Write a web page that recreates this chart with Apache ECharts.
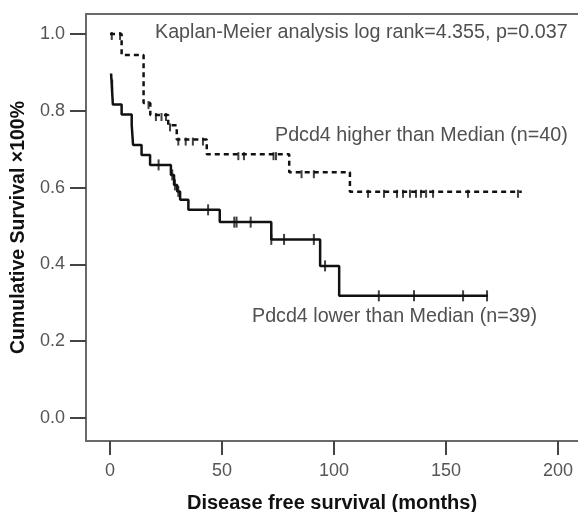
<!DOCTYPE html>
<html>
<head>
<meta charset="utf-8">
<script src="https://cdn.jsdelivr.net/npm/echarts@6/dist/echarts.min.js"></script>
<style>
  html, body { margin: 0; padding: 0; background: #fff; }
  #chart { width: 578px; height: 512px; }
</style>
</head>
<body>
<div id="chart"></div>
<script>
// Pdcd4 lower than median (n=39): step times (months) and survival after the step
const lowTimes = [0.5, 1.3, 5.2, 9.7, 10.3, 14.1, 17.9, 27.2, 28.6, 30, 31.3, 35, 49, 72, 93.8, 102.3, 168.7];
const lowSurv = [0.897, 0.816, 0.79, 0.763, 0.711, 0.685, 0.659, 0.633, 0.607, 0.59, 0.568, 0.542, 0.51, 0.465, 0.396, 0.318, 0.318];
// censored cases, lower group
const lowCensT = [1, 21.7, 27.8, 29, 30.5, 43.8, 55.5, 56.5, 62.8, 72, 77.7, 91, 96, 120, 135.7, 157.6, 168.3];
const lowCensS = [0.867, 0.659, 0.633, 0.607, 0.59, 0.542, 0.51, 0.51, 0.51, 0.465, 0.465, 0.465, 0.396, 0.318, 0.318, 0.318, 0.318];

// Pdcd4 higher than median (n=40)
const highTimes = [0, 5.2, 15, 18, 26, 29.8, 43.2, 80, 107.1, 183.8];
const highSurv = [1.0, 0.945, 0.82, 0.789, 0.762, 0.725, 0.687, 0.64, 0.589, 0.589];
const highCensT = [0.8, 4.5, 17.2, 20.5, 23, 25, 26.8, 30.5, 33.8, 37, 41.5, 57.3, 59.8, 73, 74.1, 85.5, 91,
  115.2, 122.3, 128.1, 130.8, 133.9, 136.6, 138.8, 141.1, 144.2, 159.8, 182.1];
const highCensS = [1.0, 1.0, 0.82, 0.789, 0.789, 0.789, 0.762, 0.725, 0.725, 0.725, 0.725, 0.687, 0.687, 0.687, 0.687, 0.64, 0.64,
  0.589, 0.589, 0.589, 0.589, 0.589, 0.589, 0.589, 0.589, 0.589, 0.589, 0.589];

const xTicks = [0, 50, 100, 150, 200];
const yTicks = [0, 0.2, 0.4, 0.6, 0.8, 1.0];

const xTitle = "Disease free survival (months)";
const yTitle = "Cumulative Survival ×100%";
const statText = "Kaplan-Meier analysis log rank=4.355, p=0.037";
const highLabel = "Pdcd4 higher than Median (n=40)";
const lowLabel = "Pdcd4 lower than Median (n=39)";

const zip = (a, b) => a.map((v, i) => [v, b[i]]);

const font = "'Liberation Sans', Arial, sans-serif";
const frameColor = "#6a6a6a";
const textGray = "#555";
const xMin = -10.7, xMax = 208.9;

const chart = echarts.init(document.getElementById("chart"), null, { renderer: "canvas" });

chart.setOption({
  animation: false,
  backgroundColor: "#fff",
  grid: { left: 86, top: 14, bottom: 71, right: 0, outerBoundsMode: "none", containLabel: false },
  xAxis: [
    {
      type: "value",
      min: xMin,
      max: xMax,
      name: xTitle,
      nameLocation: "middle",
      nameGap: 52,
      nameTextStyle: { fontFamily: font, fontSize: 20, fontWeight: "bold", color: "#111" },
      axisLine: { show: true, onZero: false, lineStyle: { color: frameColor, width: 2 } },
      axisTick: { show: true, inside: false, length: 14, lineStyle: { color: "#444", width: 2 }, customValues: xTicks },
      axisLabel: { fontFamily: font, fontSize: 18, color: textGray, margin: 21, customValues: xTicks },
      splitLine: { show: false }
    },
    {
      // top edge of the frame
      type: "value",
      position: "top",
      min: xMin,
      max: xMax,
      axisLine: { show: true, onZero: false, lineStyle: { color: frameColor, width: 2 } },
      axisTick: { show: false },
      axisLabel: { show: false },
      splitLine: { show: false }
    }
  ],
  yAxis: {
    type: "value",
    min: -0.06,
    max: 1.052,
    name: yTitle,
    nameLocation: "middle",
    nameGap: 55,
    nameTextStyle: { fontFamily: font, fontSize: 19.5, fontWeight: "bold", color: "#111" },
    axisLine: { show: true, onZero: false, lineStyle: { color: frameColor, width: 2 } },
    axisTick: { show: true, inside: false, length: 16, lineStyle: { color: "#444", width: 2 }, customValues: yTicks },
    axisLabel: {
      fontFamily: font, fontSize: 18, color: textGray, margin: 21, customValues: yTicks,
      formatter: (v) => v.toFixed(1)
    },
    splitLine: { show: false }
  },
  graphic: [
    { type: "text", left: 155, top: 23, style: { text: statText, font: "19.7px " + font, fill: "#505050" } },
    { type: "text", left: 275, top: 126, style: { text: highLabel, font: "19.7px " + font, fill: "#505050" } },
    { type: "text", left: 252, top: 307, style: { text: lowLabel, font: "19.7px " + font, fill: "#505050" } }
  ],
  series: [
    {
      name: "low",
      type: "line",
      step: "end",
      data: zip(lowTimes, lowSurv),
      symbol: "none",
      lineStyle: { color: "#111", width: 2.5 },
      z: 3
    },
    {
      name: "high",
      type: "line",
      step: "end",
      data: zip(highTimes, highSurv),
      symbol: "none",
      lineStyle: { color: "#111", width: 2.5, type: [5, 4] },
      z: 3
    },
    {
      name: "low censored",
      type: "scatter",
      data: zip(lowCensT, lowCensS),
      symbol: "rect",
      symbolSize: [2, 11],
      itemStyle: { color: "#111" },
      z: 4
    },
    {
      name: "high censored",
      type: "scatter",
      data: zip(highCensT, highCensS),
      symbol: "rect",
      symbolSize: [2, 8],
      symbolOffset: [0, 2],
      itemStyle: { color: "#111" },
      z: 4
    }
  ]
});
</script>
</body>
</html>
